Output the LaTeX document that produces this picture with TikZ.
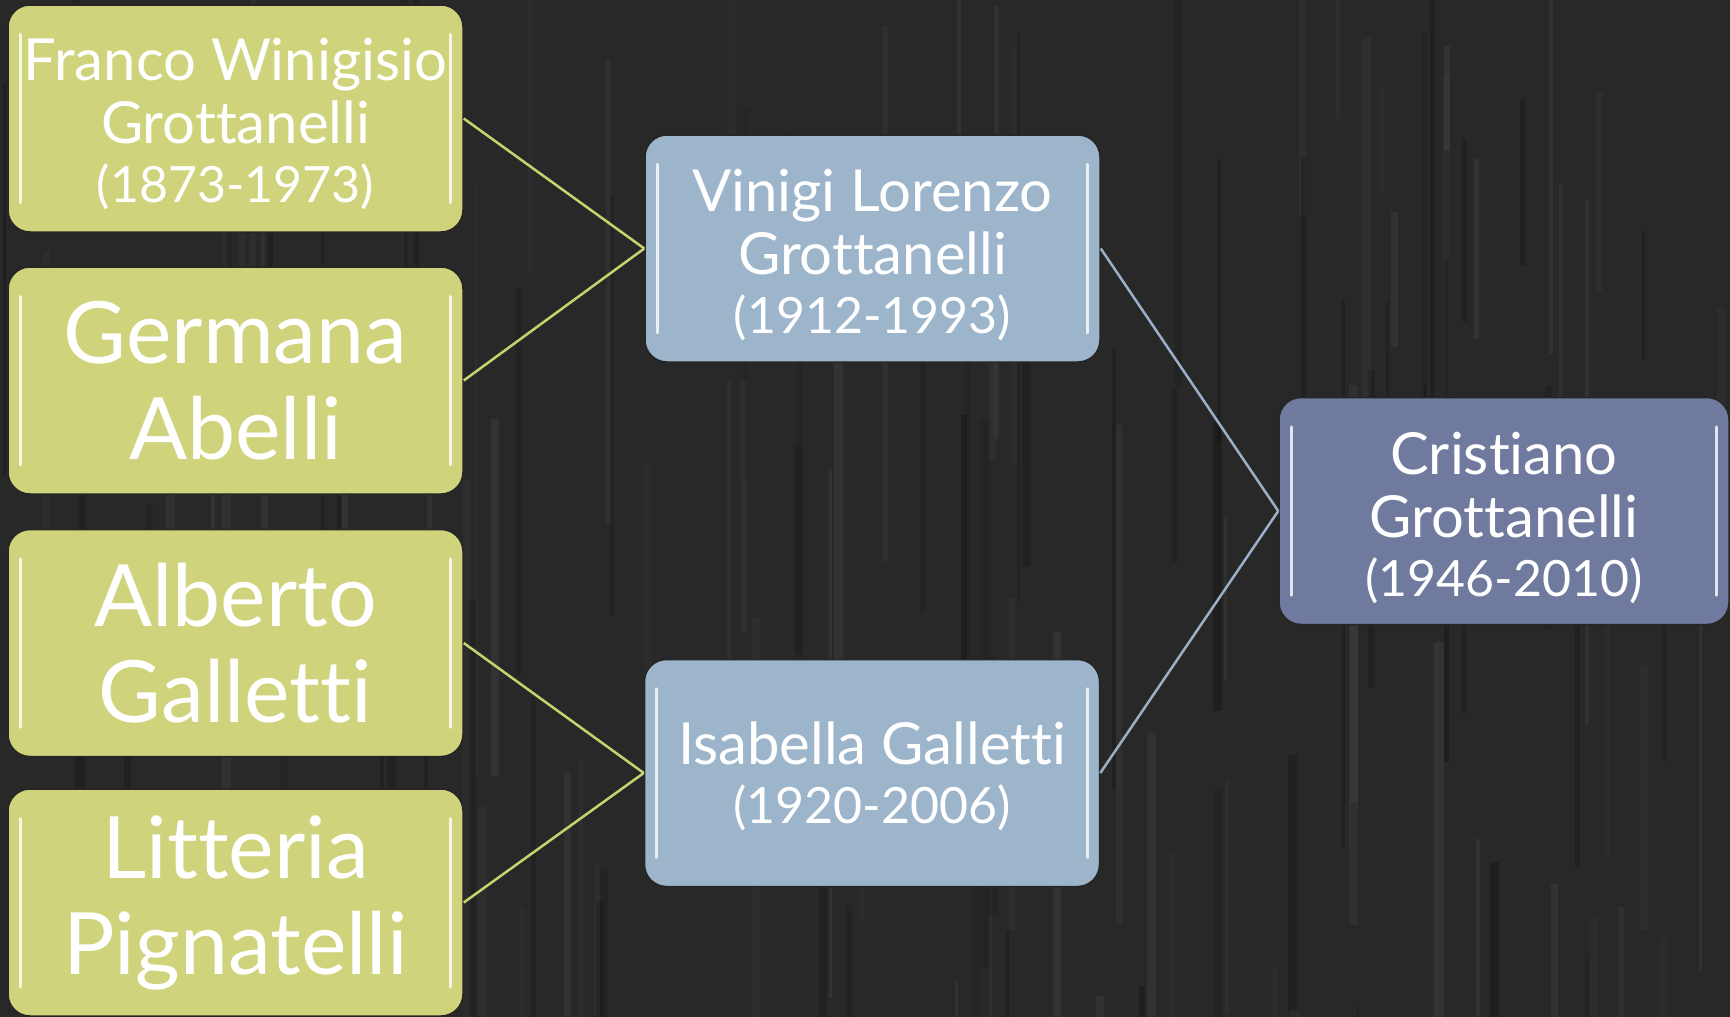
\documentclass[tikz,border=0pt]{standalone}
\usepackage{fontspec}
\setmainfont{Lato}[Ligatures=NoCommon]
\definecolor{bg}{HTML}{282828}
\definecolor{gfill}{HTML}{CFD47C}
\definecolor{bfill}{HTML}{9DB5CB}
\definecolor{dfill}{HTML}{6F7A9E}
\definecolor{gline}{HTML}{C9D26E}
\definecolor{bline}{HTML}{9AB0C8}
\begin{document}
\begin{tikzpicture}[x=1pt,y=-1pt,
  box/.style={rounded corners=22pt, minimum width=455pt, minimum height=227pt,
    align=center, text=white, inner sep=0pt, draw=black!85, line width=1.5pt},
  gbox/.style={box, fill=gfill},
  bbox/.style={box, fill=bfill},
  dbox/.style={box, fill=dfill, minimum width=450pt},
  txt/.style={align=center, text=white, inner sep=0pt},
  hl/.style={draw=white, opacity=0.8, line width=3pt, line cap=round},
  glink/.style={draw=gline, line width=2.5pt},
  blink/.style={draw=bline, line width=2.5pt},
  medium/.style={font=\fontsize{58}{63}\selectfont},
  big/.style={font=\fontsize{86}{96}\selectfont}
]
\fill[bg] (0,0) rectangle (1730,1017);
\useasboundingbox (0,0) rectangle (1730,1017);
\pgfmathsetseed{11}
\foreach \k in {1,...,140}{
  \pgfmathsetmacro{\xx}{random(0,1730)}
  \pgfmathsetmacro{\yy}{random(-100,1017)}
  \pgfmathsetmacro{\ll}{random(100,600)}
  \pgfmathsetmacro{\op}{random(8,22)/100}
  \pgfmathsetmacro{\ww}{random(3,9)}
  \pgfmathtruncatemacro{\dk}{random(0,1)}
  \ifnum\dk=1
    \draw[line width=\ww pt, black, opacity=\op] (\xx,\yy) -- ++(0,\ll);
  \else
    \draw[line width=\ww pt, white!25!bg, opacity=\op] (\xx,\yy) -- ++(0,\ll);
  \fi
}

\node[gbox, minimum height=227pt] (f1) at (235.5,118.5) {};
\node[txt, medium] (t1) at ([yshift=-6pt]f1.center)
  {Franco Winigisio\\Grottanelli\\[-4pt]{\fontsize{50}{60}\selectfont(1873-1973)}};
\node[gbox, big] (f2) at (235.5,380.5) {Germana\\Abelli};
\node[gbox, big] (f3) at (235.5,643) {Alberto\\Galletti};
\node[gbox, big] (f4) at (235.5,902.5) {Litteria\\Pignatelli};

\node[bbox] (v) at (872.5,248.5) {};
\node[txt, medium] (tv) at ([yshift=-7pt]v.center)
  {Vinigi Lorenzo\\Grottanelli\\[-4pt]{\fontsize{50}{60}\selectfont(1912-1993)}};
\node[bbox] (i) at (872,773) {};
\node[txt, medium] (ti) at ([yshift=-3pt]i.center)
  {Isabella Galletti\\[-4pt]{\fontsize{50}{60}\selectfont(1920-2006)}};

\node[dbox] (c) at (1504,511) {};
\node[txt, medium] (tc) at ([yshift=-7pt]c.center)
  {Cristiano\\Grottanelli\\[-4pt]{\fontsize{50}{60}\selectfont(1946-2010)}};

\foreach \n in {f1,f2,f3,f4,v,i,c}{
  \draw[hl] ([xshift=13pt,yshift=-30pt]\n.north west) -- ([xshift=13pt,yshift=30pt]\n.south west);
  \draw[hl] ([xshift=-13pt,yshift=-30pt]\n.north east) -- ([xshift=-13pt,yshift=30pt]\n.south east);
}

\draw[glink] (f1.east) -- (v.west);
\draw[glink] (f2.east) -- (v.west);
\draw[glink] (f3.east) -- (i.west);
\draw[glink] (f4.east) -- (i.west);
\draw[blink] (v.east) -- (c.west);
\draw[blink] (i.east) -- (c.west);
\end{tikzpicture}
\end{document}
